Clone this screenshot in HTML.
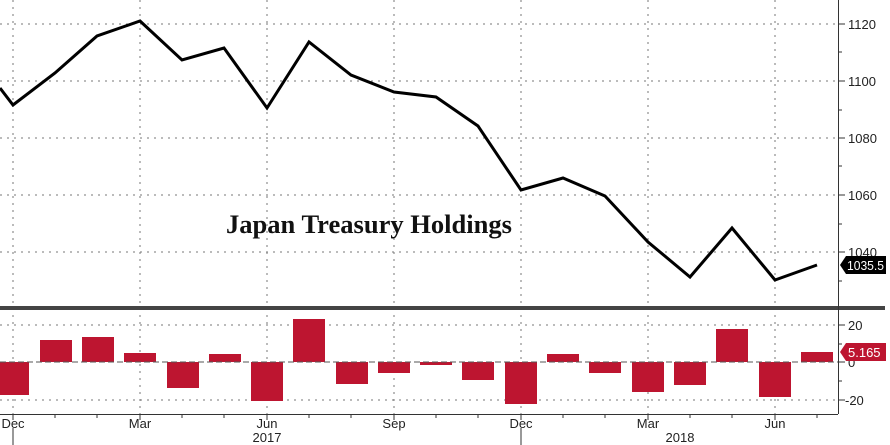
<!DOCTYPE html>
<html><head><meta charset="utf-8"><style>html,body{margin:0;padding:0;background:#fff}svg{display:block}</style></head>
<body>
<svg width="890" height="445" xmlns="http://www.w3.org/2000/svg" font-family="Liberation Sans, sans-serif">
<rect width="890" height="445" fill="#fff"/>
<g stroke="#777" stroke-width="1" stroke-dasharray="2,5">
<line x1="0" y1="24" x2="838" y2="24"/><line x1="0" y1="81" x2="838" y2="81"/><line x1="0" y1="138" x2="838" y2="138"/><line x1="0" y1="195" x2="838" y2="195"/><line x1="0" y1="252" x2="838" y2="252"/>
<line x1="0" y1="325" x2="838" y2="325"/><line x1="0" y1="400" x2="838" y2="400"/>
<line x1="13" y1="0" x2="13" y2="414"/><line x1="140" y1="0" x2="140" y2="414"/><line x1="267" y1="0" x2="267" y2="414"/><line x1="394" y1="0" x2="394" y2="414"/><line x1="521" y1="0" x2="521" y2="414"/><line x1="648" y1="0" x2="648" y2="414"/><line x1="775" y1="0" x2="775" y2="414"/>
</g>
<g fill="#bd1530">
<rect x="-3" y="362" width="32" height="33"/>
<rect x="40" y="340" width="32" height="22"/>
<rect x="82" y="337" width="32" height="25"/>
<rect x="124" y="353" width="32" height="9"/>
<rect x="167" y="362" width="32" height="26"/>
<rect x="209" y="354" width="32" height="8"/>
<rect x="251" y="362" width="32" height="39"/>
<rect x="293" y="319" width="32" height="43"/>
<rect x="336" y="362" width="32" height="22"/>
<rect x="378" y="362" width="32" height="11"/>
<rect x="420" y="362" width="32" height="3"/>
<rect x="462" y="362" width="32" height="18"/>
<rect x="505" y="362" width="32" height="42"/>
<rect x="547" y="354" width="32" height="8"/>
<rect x="589" y="362" width="32" height="11"/>
<rect x="632" y="362" width="32" height="30"/>
<rect x="674" y="362" width="32" height="23"/>
<rect x="716" y="329" width="32" height="33"/>
<rect x="759" y="362" width="32" height="35"/>
<rect x="801" y="352" width="32" height="10"/>
</g>
<line x1="0" y1="362" x2="838" y2="362" stroke="#555" stroke-dasharray="6,3" stroke-width="1"/>
<polyline fill="none" stroke="#000" stroke-width="3" stroke-linejoin="miter" points="0,88 13,105 55,73 97,36 140,21 182,60 224,48 267,108 309,42 351,75 394,92 436,97 478,126 521,190 563,178 605,196 648,242 690,277 732,228 775,280 817,265"/>
<rect x="0" y="306" width="885" height="4" fill="#444"/>
<line x1="838.5" y1="0" x2="838.5" y2="414" stroke="#333"/>
<line x1="0" y1="414.5" x2="838" y2="414.5" stroke="#333"/>
<g stroke="#333">
<line x1="838" y1="24" x2="845" y2="24"/><line x1="838" y1="81" x2="845" y2="81"/><line x1="838" y1="138" x2="845" y2="138"/><line x1="838" y1="195" x2="845" y2="195"/><line x1="838" y1="252" x2="845" y2="252"/>
<line x1="838" y1="52" x2="842" y2="52"/><line x1="838" y1="110" x2="842" y2="110"/><line x1="838" y1="166" x2="842" y2="166"/><line x1="838" y1="224" x2="842" y2="224"/><line x1="838" y1="281" x2="842" y2="281"/>
<line x1="838" y1="325" x2="845" y2="325"/><line x1="838" y1="362" x2="845" y2="362"/><line x1="838" y1="400" x2="845" y2="400"/>
<line x1="838" y1="344" x2="842" y2="344"/><line x1="838" y1="381" x2="842" y2="381"/>
<line x1="13" y1="414" x2="13" y2="420"/><line x1="55" y1="414" x2="55" y2="418"/><line x1="97" y1="414" x2="97" y2="418"/><line x1="140" y1="414" x2="140" y2="420"/><line x1="182" y1="414" x2="182" y2="418"/><line x1="224" y1="414" x2="224" y2="418"/><line x1="267" y1="414" x2="267" y2="420"/><line x1="309" y1="414" x2="309" y2="418"/><line x1="351" y1="414" x2="351" y2="418"/><line x1="394" y1="414" x2="394" y2="420"/><line x1="436" y1="414" x2="436" y2="418"/><line x1="478" y1="414" x2="478" y2="418"/><line x1="521" y1="414" x2="521" y2="420"/><line x1="563" y1="414" x2="563" y2="418"/><line x1="605" y1="414" x2="605" y2="418"/><line x1="648" y1="414" x2="648" y2="420"/><line x1="690" y1="414" x2="690" y2="418"/><line x1="732" y1="414" x2="732" y2="418"/><line x1="775" y1="414" x2="775" y2="420"/><line x1="817" y1="414" x2="817" y2="418"/>
<line x1="13" y1="428" x2="13" y2="445"/><line x1="521" y1="428" x2="521" y2="445"/>
</g>
<g font-size="13" fill="#222">
<text x="848" y="29">1120</text><text x="848" y="86">1100</text><text x="848" y="143">1080</text><text x="848" y="200">1060</text><text x="848" y="257">1040</text>
<text x="848" y="330">20</text><text x="848" y="367">0</text><text x="845" y="405">-20</text>
</g>
<g font-size="13" fill="#222" text-anchor="middle">
<text x="13" y="428">Dec</text><text x="140" y="428">Mar</text><text x="267" y="428">Jun</text><text x="394" y="428">Sep</text><text x="521" y="428">Dec</text><text x="648" y="428">Mar</text><text x="775" y="428">Jun</text>
<text x="267" y="442">2017</text><text x="680" y="442">2018</text>
</g>
<path d="M840,265 L846,256 L886,256 L886,274 L846,274 Z" fill="#000"/>
<text x="847" y="270" font-size="13" fill="#fff" textLength="37" lengthAdjust="spacingAndGlyphs">1035.5</text>
<path d="M840,352 L846,343 L886,343 L886,361 L846,361 Z" fill="#bd1530"/>
<text x="848" y="357" font-size="13" fill="#fff">5.165</text>
<text x="226" y="233" font-family="Liberation Serif, serif" font-size="26" font-weight="bold" fill="#111" textLength="286" lengthAdjust="spacingAndGlyphs">Japan Treasury Holdings</text>
</svg>
</body></html>
